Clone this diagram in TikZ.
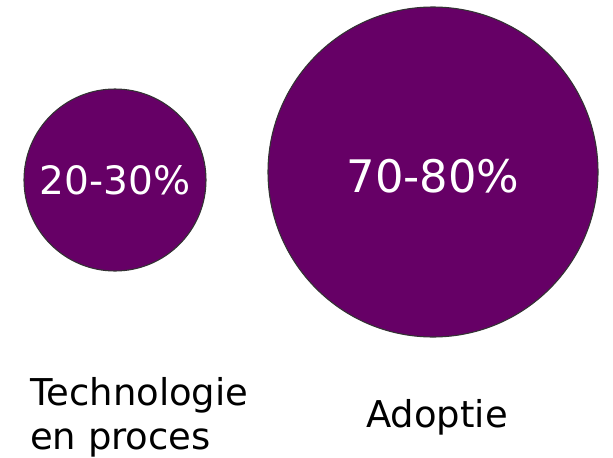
\documentclass[tikz,border=0pt]{standalone}
\usepackage{fontspec}
\setmainfont{DejaVu Sans}
\definecolor{paars}{HTML}{660066}
\tikzset{
  bubble/.style={circle, fill=paars, draw=black!80, line width=0.8pt, text=white, inner sep=0pt},
  caption/.style={inner sep=0pt, font=\fontsize{27.7}{33}\selectfont}
}
\begin{document}
\begin{tikzpicture}[x=0.75pt, y=-0.75pt]
    \useasboundingbox (0,0) rectangle (613,457);
    % de twee cirkels
    \node[bubble, minimum size=136.5pt, font=\fontsize{29.3}{34}\selectfont] (tech) at (115,180) {20-30\%};
    \node[bubble, minimum size=247.5pt, font=\fontsize{33.6}{40}\selectfont] (adopt) at (433,172) {};
    \node[text=white, inner sep=0pt, font=\fontsize{33.6}{40}\selectfont] (adoptpct) at (433,176) {70-80\%};
    % onderschriften
    \node[caption, anchor=base west] (techlabel) at (30,405) {Technologie};
    \node[caption, anchor=base west] (proceslabel) at (30,449) {en proces};
    \node[caption, anchor=base] (adoptlabel) at (437,427) {Adoptie};
\end{tikzpicture}
\end{document}
